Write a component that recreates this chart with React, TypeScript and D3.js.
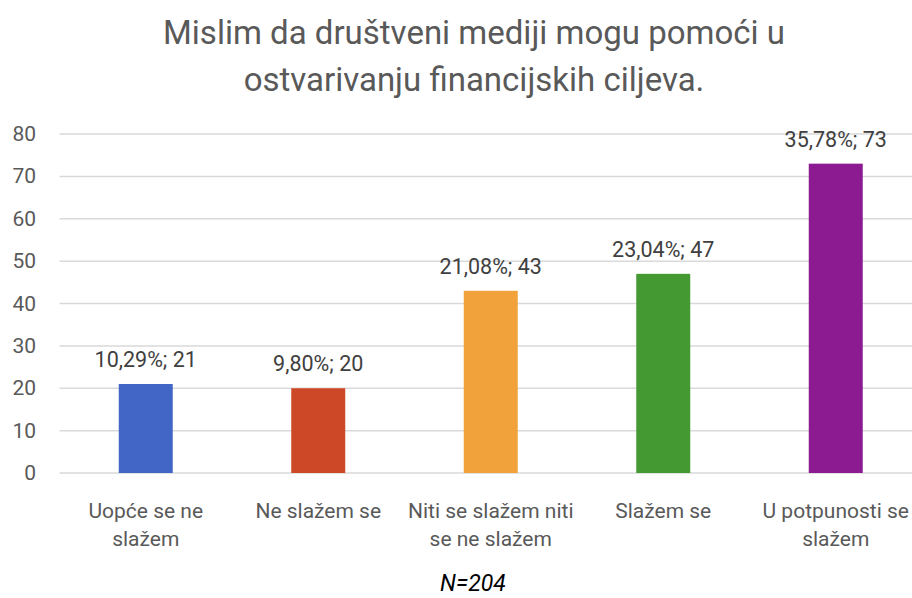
import React from "react";
import * as d3 from "d3";

const categories: string[][] = [
  ["Uopće se ne", "slažem"],
  ["Ne slažem se"],
  ["Niti se slažem niti", "se ne slažem"],
  ["Slažem se"],
  ["U potpunosti se", "slažem"],
];
const values = [21, 20, 43, 47, 73];
const percents = ["10,29%", "9,80%", "21,08%", "23,04%", "35,78%"];
const colors = ["#4166C5", "#CC4826", "#F1A23B", "#459932", "#8C1A91"];
const yTicks = [0, 10, 20, 30, 40, 50, 60, 70, 80];
const titleLines = ["Mislim da društveni mediji mogu pomoći u", "ostvarivanju financijskih ciljeva."];
const note = "N=204";

export default function App() {
  const W = 912, H = 598;
  const left = 59.5, right = 922, top = 134, bottom = 473;
  const x = d3.scaleBand().domain(values.map((_, i) => String(i))).range([left, right]).paddingInner(0.687).paddingOuter(0.3435);
  const y = d3.scaleLinear().domain([0, 80]).range([bottom, top]);
  const font = "Roboto, 'Open Sans', sans-serif";
  return (
    <svg width={W} height={H} style={{ position: "absolute", left: 0, top: 0, background: "#fff" }} fontFamily={font}>
      {titleLines.map((t, i) => (
        <text key={i} x={474} y={44 + i * 47} textAnchor="middle" fontSize={33} fill="#595959">{t}</text>
      ))}
      {yTicks.map((t) => (
        <g key={t}>
          <line x1={left} x2={right} y1={y(t)} y2={y(t)} stroke="#D9D9D9" strokeWidth={1.5} />
          <text x={36} y={y(t) + 7} textAnchor="end" fontSize={21} fill="#595959">{t}</text>
        </g>
      ))}
      {values.map((v, i) => {
        const bx = x(String(i))!;
        const bw = x.bandwidth();
        const cx = bx + bw / 2;
        return (
          <g key={i}>
            <rect x={bx} y={y(v)} width={bw} height={bottom - y(v)} fill={colors[i]} />
            <text x={cx} y={y(v) - 17} textAnchor="middle" fontSize={21.5} fill="#404040">{`${percents[i]}; ${v}`}</text>
            {categories[i].map((l, j) => (
              <text key={j} x={cx} y={518 + j * 28} textAnchor="middle" fontSize={21} fill="#595959">{l}</text>
            ))}
          </g>
        );
      })}
      <text x={473} y={591} textAnchor="middle" fontSize={23} fontStyle="italic" fill="#000">{note}</text>
    </svg>
  );
}
